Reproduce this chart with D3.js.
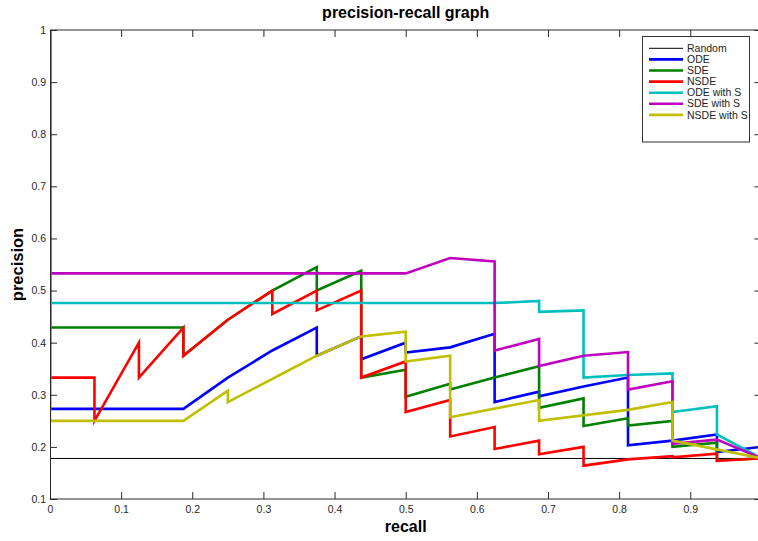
<!DOCTYPE html>
<html>
<head>
<meta charset="utf-8">
<script src="https://cdn.jsdelivr.net/npm/d3@7"></script>
<style>
  html, body { margin: 0; padding: 0; background: #fff; }
  svg { display: block; font-family: "Liberation Sans", Arial, sans-serif; }
</style>
</head>
<body>
<svg id="chart" width="758" height="541"></svg>
<script>
// ---- data ----
const seriesNames = ["Random", "ODE", "SDE", "NSDE", "ODE with S", "SDE with S", "NSDE with S"];
const seriesColors = ["#000000", "#0000ff", "#008000", "#ff0000", "#00bfbf", "#bf00bf", "#bfbf00"];

const randomRecall = [0, 1];
const randomPrecision = [0.1778, 0.1778];

const odeRecall = [0, 0, 0.1875, 0.25, 0.3125, 0.375, 0.375, 0.4375, 0.4375, 0.5, 0.5, 0.5625, 0.625, 0.625, 0.6875, 0.6875, 0.75, 0.8125, 0.8125, 0.875, 0.9375, 0.9375, 1, 1];
const odePrecision = [1, 0.273, 0.273, 0.333, 0.385, 0.429, 0.375, 0.412, 0.368, 0.400, 0.381, 0.391, 0.417, 0.286, 0.306, 0.297, 0.316, 0.333, 0.203, 0.212, 0.224, 0.190, 0.200, 0.178];

const sdeRecall = [0, 0, 0.1875, 0.1875, 0.25, 0.3125, 0.375, 0.375, 0.4375, 0.4375, 0.5, 0.5, 0.5625, 0.5625, 0.625, 0.6875, 0.6875, 0.75, 0.75, 0.8125, 0.8125, 0.875, 0.875, 0.9375, 0.9375, 1];
const sdePrecision = [1, 0.429, 0.429, 0.375, 0.444, 0.500, 0.545, 0.500, 0.538, 0.333, 0.348, 0.296, 0.321, 0.310, 0.333, 0.355, 0.275, 0.293, 0.240, 0.255, 0.241, 0.250, 0.200, 0.208, 0.174, 0.178];

const nsdeRecall = [0, 0, 0.0625, 0.0625, 0.125, 0.125, 0.1875, 0.1875, 0.25, 0.3125, 0.3125, 0.375, 0.375, 0.4375, 0.4375, 0.5, 0.5, 0.5625, 0.5625, 0.625, 0.625, 0.6875, 0.6875, 0.75, 0.75, 0.8125, 0.875, 0.875, 0.9375, 0.9375, 1];
const nsdePrecision = [1, 0.333, 0.333, 0.250, 0.400, 0.333, 0.429, 0.375, 0.444, 0.500, 0.455, 0.500, 0.462, 0.500, 0.333, 0.364, 0.267, 0.290, 0.220, 0.238, 0.196, 0.212, 0.186, 0.200, 0.164, 0.176, 0.182, 0.180, 0.187, 0.173, 0.178];

const odeSRecall = [0, 0, 0.625, 0.6875, 0.6875, 0.75, 0.75, 0.8125, 0.875, 0.875, 0.9375, 0.9375, 1];
const odeSPrecision = [1, 0.476, 0.476, 0.480, 0.459, 0.462, 0.333, 0.338, 0.341, 0.267, 0.278, 0.224, 0.178];

const sdeSRecall = [0, 0, 0.5, 0.5625, 0.625, 0.625, 0.6875, 0.6875, 0.75, 0.8125, 0.8125, 0.875, 0.875, 0.9375, 1];
const sdeSPrecision = [1, 0.533, 0.533, 0.5625, 0.556, 0.385, 0.407, 0.355, 0.375, 0.382, 0.310, 0.326, 0.206, 0.214, 0.178];

const nsdeSRecall = [0, 0, 0.1875, 0.25, 0.25, 0.375, 0.4375, 0.5, 0.5, 0.5625, 0.5625, 0.6875, 0.6875, 0.8125, 0.875, 0.875, 1];
const nsdeSPrecision = [1, 0.250, 0.250, 0.308, 0.286, 0.375, 0.412, 0.421, 0.364, 0.375, 0.257, 0.290, 0.250, 0.271, 0.286, 0.212, 0.178];

const xTickValues = [0, 0.1, 0.2, 0.3, 0.4, 0.5, 0.6, 0.7, 0.8, 0.9];
const xTickLabels = ["0", "0.1", "0.2", "0.3", "0.4", "0.5", "0.6", "0.7", "0.8", "0.9"];
const yTickValues = [0.1, 0.2, 0.3, 0.4, 0.5, 0.6, 0.7, 0.8, 0.9, 1];
const yTickLabels = ["0.1", "0.2", "0.3", "0.4", "0.5", "0.6", "0.7", "0.8", "0.9", "1"];

const titleText = "precision-recall graph";
const xLabelText = "recall";
const yLabelText = "precision";

// ---- layout ----
const svg = d3.select("#chart");
const mLeft = 50, mTop = 30, mRight = 761.4, mBottom = 499;
const x = d3.scaleLinear().domain([0, 1]).range([mLeft, mRight]);
const y = d3.scaleLinear().domain([0.1, 1]).range([mBottom, mTop]);

svg.append("rect").attr("width", 758).attr("height", 541).attr("fill", "#fff");

const axisColor = "#2a2a2a";
const tickLen = 7;

// clip
svg.append("clipPath").attr("id", "plotClip")
  .append("rect").attr("x", mLeft).attr("y", mTop - 1.5)
  .attr("width", mRight - mLeft + 1.5).attr("height", mBottom - mTop + 3);

const plot = svg.append("g").attr("clip-path", "url(#plotClip)");

const seriesData = [
  [randomRecall, randomPrecision],
  [odeRecall, odePrecision],
  [sdeRecall, sdePrecision],
  [nsdeRecall, nsdePrecision],
  [odeSRecall, odeSPrecision],
  [sdeSRecall, sdeSPrecision],
  [nsdeSRecall, nsdeSPrecision]
];

const line = d3.line().x(d => x(d[0])).y(d => y(d[1]));

seriesData.forEach((s, i) => {
  const pts = s[0].map((r, j) => [r, s[1][j]]);
  plot.append("path")
    .datum(pts)
    .attr("d", line)
    .attr("fill", "none")
    .attr("stroke", seriesColors[i])
    .attr("stroke-width", i === 0 ? 1 : 2.6)
    .attr("stroke-linejoin", "miter")
    .attr("stroke-linecap", "butt");
});

function styleAxis(g) {
  g.selectAll("path.domain").attr("stroke", axisColor).attr("stroke-width", 1);
  g.selectAll(".tick line").attr("stroke", axisColor).attr("stroke-width", 1);
  g.selectAll(".tick text").attr("fill", "#262626").style("font-size", "10.5px")
    .style("font-family", "'Liberation Sans', Arial, sans-serif");
}

// axes (box), drawn over the lines
const gx = svg.append("g").attr("transform", `translate(0,${mBottom})`)
  .call(d3.axisBottom(x).tickValues(xTickValues).tickFormat((d, i) => xTickLabels[i])
    .tickSizeInner(-tickLen).tickSizeOuter(0).tickPadding(6.5));
styleAxis(gx);
gx.select("path.domain").attr("d", `M${mLeft},0H${mRight}`);
const gxTop = svg.append("g").attr("transform", `translate(0,${mTop})`)
  .call(d3.axisTop(x).tickValues(xTickValues).tickFormat("")
    .tickSizeInner(-tickLen).tickSizeOuter(0));
styleAxis(gxTop);
gxTop.select("path.domain").attr("d", `M${mLeft},0H${mRight}`);
const gy = svg.append("g").attr("transform", `translate(${mLeft},0)`)
  .call(d3.axisLeft(y).tickValues(yTickValues).tickFormat((d, i) => yTickLabels[i])
    .tickSizeInner(-tickLen).tickSizeOuter(0).tickPadding(4));
styleAxis(gy);
const gyRight = svg.append("g").attr("transform", `translate(${mRight},0)`)
  .call(d3.axisRight(y).tickValues(yTickValues).tickFormat("")
    .tickSizeInner(-tickLen).tickSizeOuter(0));
styleAxis(gyRight);

// title & labels
svg.append("text").attr("x", (mLeft + mRight) / 2).attr("y", 17.5)
  .attr("text-anchor", "middle").style("font-size", "16px").style("font-weight", "bold")
  .attr("fill", "#000").text(titleText);
svg.append("text").attr("x", (mLeft + mRight) / 2).attr("y", 532)
  .attr("text-anchor", "middle").style("font-size", "16px").style("font-weight", "bold")
  .attr("fill", "#000").text(xLabelText);
svg.append("text")
  .attr("transform", `translate(23,${(mTop + mBottom) / 2}) rotate(-90)`)
  .attr("text-anchor", "middle").style("font-size", "16.5px").style("font-weight", "bold")
  .attr("fill", "#000").text(yLabelText);

// legend
const lg = svg.append("g");
lg.append("rect").attr("x", 642.5).attr("y", 36.5).attr("width", 107).attr("height", 105.5)
  .attr("fill", "#fff").attr("stroke", "#333").attr("stroke-width", 1);
seriesNames.forEach((name, i) => {
  const yy = 48.3 + i * 11.1;
  lg.append("line").attr("x1", 649).attr("x2", 683).attr("y1", yy).attr("y2", yy)
    .attr("stroke", seriesColors[i]).attr("stroke-width", i === 0 ? 1 : 2.6);
  lg.append("text").attr("x", 687).attr("y", yy).attr("dy", "0.35em")
    .style("font-size", "10.5px").attr("fill", "#222").text(name);
});
</script>
</body>
</html>
